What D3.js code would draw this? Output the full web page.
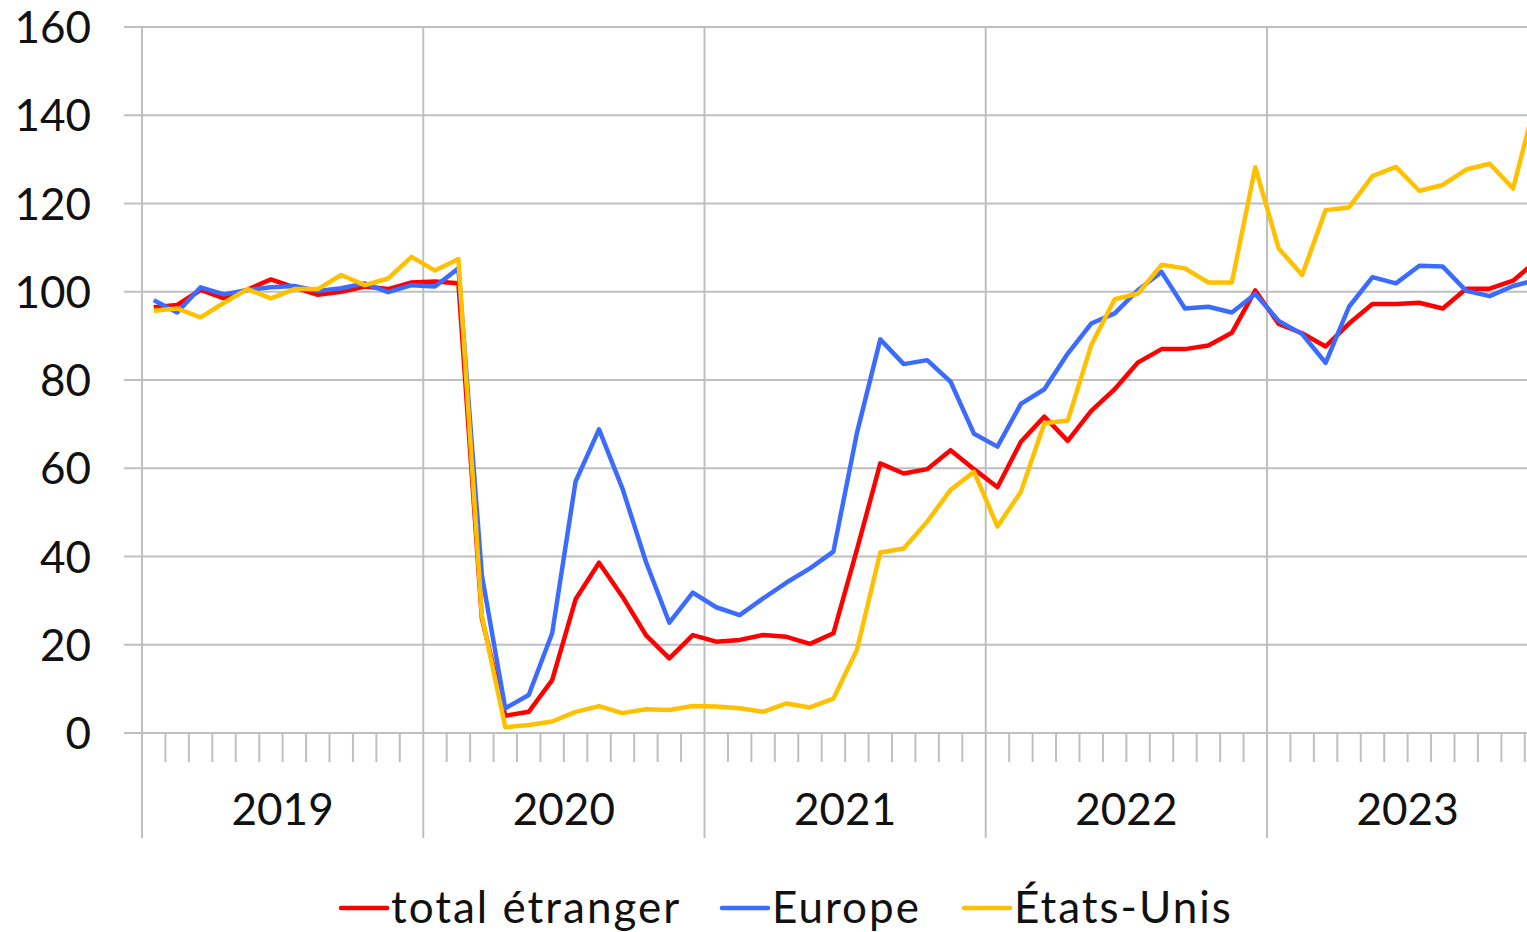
<!DOCTYPE html>
<html lang="fr">
<head>
  <meta charset="UTF-8">
  <title>Fréquentation étrangère</title>
  <script src="https://cdn.jsdelivr.net/npm/d3@7/dist/d3.min.js"></script>
  <style>
    body { margin: 0; background: #fff; }
    text { font-family: Lato, "Open Sans", sans-serif; fill: #111; }
  </style>
</head>
<body>
  <div id="chart"></div>
  <script>
    var years = ["2019", "2020", "2021", "2022", "2023"];
    var yTicks = [0, 20, 40, 60, 80, 100, 120, 140, 160];

    // indices mensuels, janv. 2019 -> déc. 2023
    var totalEtranger = [
      96.5, 97.0, 100.4, 98.5, 100.5, 102.8, 101.0, 99.3, 100.0, 101.2, 100.6, 102.1,
      102.3, 101.9, 26.0, 3.9, 4.8, 12.0, 30.3, 38.6, 30.9, 22.2, 16.9, 22.2,
      20.7, 21.1, 22.2, 21.8, 20.2, 22.6, 41.5, 61.1, 58.8, 59.8, 64.1, 59.8,
      55.7, 66.0, 71.7, 66.2, 73.0, 77.9, 84.0, 87.0, 87.0, 87.8, 90.7, 100.3,
      92.7, 90.6, 87.6, 92.8, 97.2, 97.2, 97.5, 96.2, 100.7, 100.7, 102.5, 107.0
    ];
    var europe = [
      98.1, 95.3, 101.0, 99.4, 100.4, 101.0, 101.3, 100.2, 100.8, 101.9, 99.9, 101.5,
      101.2, 105.3, 35.8, 5.6, 8.6, 22.6, 57.0, 68.8, 55.4, 38.8, 25.0, 31.8,
      28.5, 26.7, 30.5, 34.1, 37.3, 41.1, 67.9, 89.2, 83.6, 84.5, 79.6, 67.8,
      64.9, 74.6, 77.9, 86.0, 92.8, 95.1, 100.4, 104.5, 96.2, 96.6, 95.3, 99.5,
      93.4, 90.4, 83.9, 96.6, 103.3, 101.9, 105.9, 105.7, 100.2, 99.0, 101.3, 102.7
    ];
    var etatsUnis = [
      95.7, 96.2, 94.2, 97.5, 100.6, 98.5, 100.6, 100.6, 103.8, 101.5, 103.0, 107.9,
      104.8, 107.4, 26.5, 1.3, 1.8, 2.6, 4.8, 6.1, 4.5, 5.4, 5.2, 6.1,
      6.0, 5.6, 4.8, 6.7, 5.8, 7.8, 18.8, 40.9, 41.8, 47.9, 55.1, 59.2,
      46.8, 54.7, 70.2, 70.8, 87.9, 98.3, 99.6, 106.1, 105.3, 102.1, 102.1, 128.2,
      109.8, 103.8, 118.5, 119.1, 126.2, 128.3, 122.9, 124.2, 127.7, 129.0, 123.4, 144.0
    ];

    var series = [
      { name: "total étranger", values: totalEtranger, color: "#ff0000" },
      { name: "Europe", values: europe, color: "#3b6cff" },
      { name: "États-Unis", values: etatsUnis, color: "#ffc000" }
    ];

    var width = 1527, height = 932;
    var left = 142, monthW = 23.4375, nMonths = years.length * 12;
    var gridColor = "#bfbfbf";

    var svg = d3.select("#chart").append("svg")
      .attr("width", width)
      .attr("height", height);

    var x = d3.scaleLinear().domain([0, nMonths]).range([left, left + nMonths * monthW]);
    var y = d3.scaleLinear().domain([0, 160]).range([733, 27]);

    // grille horizontale
    svg.append("g").selectAll("line")
      .data(yTicks)
      .enter().append("line")
      .attr("x1", 124).attr("x2", width)
      .attr("y1", function (d) { return y(d); })
      .attr("y2", function (d) { return y(d); })
      .attr("stroke", gridColor).attr("stroke-width", 2);

    // étiquettes axe Y
    svg.append("g").selectAll("text")
      .data(yTicks)
      .enter().append("text")
      .attr("x", 91)
      .attr("y", function (d) { return y(d) + 16; })
      .attr("text-anchor", "end")
      .attr("font-size", 44)
      .text(function (d) { return d; });

    // graduations mensuelles
    var months = d3.range(1, nMonths).filter(function (m) { return m % 12 !== 0; });
    svg.append("g").selectAll("line")
      .data(months)
      .enter().append("line")
      .attr("x1", function (d) { return x(d); })
      .attr("x2", function (d) { return x(d); })
      .attr("y1", y(0)).attr("y2", 762)
      .attr("stroke", gridColor).attr("stroke-width", 2);

    // séparations annuelles
    svg.append("g").selectAll("line")
      .data(d3.range(0, nMonths + 1, 12))
      .enter().append("line")
      .attr("x1", function (d) { return x(d); })
      .attr("x2", function (d) { return x(d); })
      .attr("y1", y(160)).attr("y2", 838)
      .attr("stroke", gridColor).attr("stroke-width", 2);

    // années
    svg.append("g").selectAll("text")
      .data(years)
      .enter().append("text")
      .attr("x", function (d, i) { return x(i * 12 + 6); })
      .attr("y", 825)
      .attr("text-anchor", "middle")
      .attr("font-size", 44)
      .text(function (d) { return d; });

    var line = d3.line()
      .x(function (d, i) { return x(i + 0.5); })
      .y(function (d) { return y(d); });

    svg.append("g").selectAll("path")
      .data(series)
      .enter().append("path")
      .attr("d", function (d) { return line(d.values); })
      .attr("fill", "none")
      .attr("stroke", function (d) { return d.color; })
      .attr("stroke-width", 4.5)
      .attr("stroke-linejoin", "round");

    // légende
    var legendX = [341, 722, 964];
    var legend = svg.append("g").selectAll("g")
      .data(series)
      .enter().append("g")
      .attr("transform", function (d, i) { return "translate(" + legendX[i] + ",908)"; });
    legend.append("line")
      .attr("x1", 0).attr("x2", 46)
      .attr("stroke", function (d) { return d.color; })
      .attr("stroke-width", 4.5).attr("stroke-linecap", "round");
    legend.append("text")
      .attr("x", 50).attr("y", 15)
      .attr("font-size", 44)
      .attr("letter-spacing", 2)
      .text(function (d) { return d.name; });
  </script>
</body>
</html>
